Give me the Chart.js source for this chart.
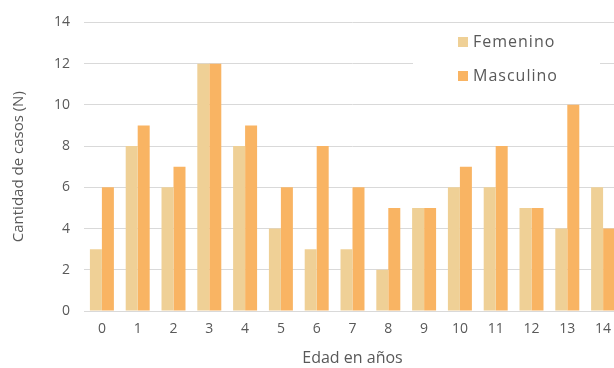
<!DOCTYPE html>
<html>
<head>
<meta charset="utf-8">
<script src="https://cdn.jsdelivr.net/npm/chart.js@4.4.1/dist/chart.umd.min.js"></script>
<style>
  html, body { margin: 0; padding: 0; background: #fff; overflow: hidden; }
  #wrap { width: 622px; height: 368px; position: relative; }
</style>
</head>
<body>
<div id="wrap"><canvas id="chart"></canvas></div>
<script>
// Edad en años (categorías del eje X).
const edades = ['0', '1', '2', '3', '4', '5', '6', '7', '8', '9', '10', '11', '12', '13', '14'];
// Casos por sexo.
const femenino = [3, 8, 6, 12, 8, 4, 3, 3, 2, 5, 6, 6, 5, 4, 6];
const masculino = [6, 9, 7, 12, 9, 6, 8, 6, 5, 5, 7, 8, 5, 10, 4];
// Ticks del eje Y.
const yTicks = [0, 2, 4, 6, 8, 10, 12, 14];

const textColor = '#595959';
const fontFamily = '"Open Sans", "Noto Sans", sans-serif';

// Leyenda dentro del área del gráfico, con fondo blanco que tapa la cuadrícula.
const boxLegend = {
  id: 'boxLegend',
  afterDatasetsDraw(chart) {
    const ctx = chart.ctx;
    ctx.save();
    ctx.fillStyle = '#ffffff';
    ctx.fillRect(413, 28, 187, 68);
    ctx.font = '16px ' + fontFamily;
    ctx.letterSpacing = '1px';
    ctx.textBaseline = 'middle';
    chart.data.datasets.forEach((ds, i) => {
      let y = 42 + i * 34;
      ctx.fillStyle = ds.backgroundColor;
      ctx.fillRect(458, y - 5, 10, 10);
      ctx.fillStyle = textColor;
      ctx.fillText(ds.label, 473, y);
    });
    ctx.restore();
  }
};

new Chart(document.getElementById('chart'), {
  type: 'bar',
  data: {
    labels: edades,
    datasets: [
      {
        label: 'Femenino',
        data: femenino,
        backgroundColor: 'rgb(239, 208, 150)',
        borderWidth: 0
      },
      {
        label: 'Masculino',
        data: masculino,
        backgroundColor: 'rgb(249, 180, 99)',
        borderWidth: 0
      }
    ]
  },
  options: {
    responsive: true,
    maintainAspectRatio: false,
    animation: false,
    layout: { padding: { top: 21, right: 1, left: 0, bottom: 0 } },
    datasets: { bar: { categoryPercentage: 0.67, barPercentage: 1.0 } },
    plugins: {
      legend: { display: false },
      tooltip: { enabled: false }
    },
    scales: {
      x: {
        grid: { display: false, drawTicks: false },
        border: { display: true, color: '#d9d9d9', width: 1 },
        ticks: { color: textColor, font: { family: fontFamily, size: 14 }, padding: 10, maxRotation: 0 },
        title: {
          display: true,
          text: 'Edad en años',
          color: textColor,
          font: { family: fontFamily, size: 16 },
          padding: { top: 7, bottom: 0 }
        },
        afterFit: (scale) => { scale.height = 57; }
      },
      y: {
        min: 0,
        max: 14,
        afterBuildTicks: (scale) => { scale.ticks = yTicks.map(v => ({ value: v })); },
        grid: { color: '#d9d9d9', drawTicks: false },
        border: { display: false },
        ticks: { color: textColor, font: { family: fontFamily, size: 14 }, padding: 14 },
        title: {
          display: true,
          text: 'Cantidad de casos (N)',
          color: textColor,
          font: { family: fontFamily, size: 15 },
          padding: { top: 10, bottom: 0 }
        },
        afterFit: (scale) => { scale.width = 84; }
      }
    }
  },
  plugins: [boxLegend]
});
</script>
</body>
</html>
